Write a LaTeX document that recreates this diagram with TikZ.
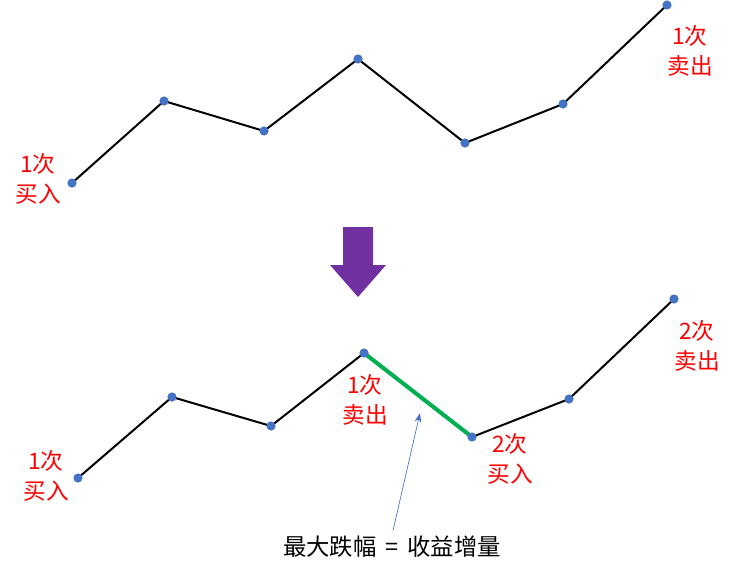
\documentclass[tikz,border=0pt]{standalone}
\usepackage{fontspec}
\newfontfamily\cjk{Noto Sans CJK SC}
\usepackage{tikz}
\usetikzlibrary{arrows.meta,calc}
\definecolor{ptblue}{HTML}{4472C4}
\definecolor{ptgreen}{HTML}{00B050}
\definecolor{ptpurple}{HTML}{7030A0}

\begin{document}
\begin{tikzpicture}[
  x=0.75pt, y=-0.75pt,
  trend/.style={line width=1.5pt, black},
  drop/.style={line width=3pt, ptgreen},
  dot/.style={fill=ptblue},
  lab/.style={text=red, font=\cjk\fontsize{17}{22}\selectfont, align=center, inner sep=0pt},
  note/.style={-{Stealth[length=7pt,width=5pt]}, ptblue, line width=0.5pt}
]
\useasboundingbox (0,0) rectangle (737,575);

% top: one buy, one sell
\coordinate (t1) at (72,183);
\coordinate (t2) at (164,101);
\coordinate (t3) at (264,131);
\coordinate (t4) at (358,59);
\coordinate (t5) at (465,143);
\coordinate (t6) at (563,104);
\coordinate (t7) at (667,5);
\draw[trend] (t1) -- (t2) -- (t3) -- (t4) -- (t5) -- (t6) -- (t7);
\foreach \p in {t1,t2,t3,t4,t5,t6,t7}
  \fill[dot] (\p) circle (4.6);
\node[lab] (tbuy)  at (38,179) {1次\\买入};
\node[lab] (tsell) at (690,51) {1次\\卖出};

% purple arrow
\fill[ptpurple] (343,227) -- (373,227) -- (373,265) -- (386,265) -- (358,297)
  -- (330,265) -- (343,265) -- cycle;

% bottom: two buys, two sells
\coordinate (b1) at (78,478);
\coordinate (b2) at (172,397);
\coordinate (b3) at (271,426);
\coordinate (b4) at (364,353);
\coordinate (b5) at (472,437);
\coordinate (b6) at (569,399);
\coordinate (b7) at (674,299);
\draw[trend] (b1) -- (b2) -- (b3) -- (b4);
\draw[trend] (b5) -- (b6) -- (b7);
\draw[drop] (b4) -- (b5);
\foreach \p in {b1,b2,b3,b4,b5,b6,b7}
  \fill[dot] (\p) circle (4.6);
\node[lab] (bbuy1)  at (46,476)  {1次\\买入};
\node[lab] (bsell1) at (365,400) {1次\\卖出};
\node[lab] (bbuy2)  at (510,459) {2次\\买入};
\node[lab] (bsell2) at (697,346) {2次\\卖出};

\node[font=\cjk\fontsize{17.5}{20}\selectfont, inner sep=1pt] (gain) at (392,547) {最大跌幅\,\ =\ \,收益增量};
\coordinate (gap) at (420,413);
\draw[note] (gain.north) ++(1,-4) coordinate (from) (from) -- (gap);
\end{tikzpicture}
\end{document}
